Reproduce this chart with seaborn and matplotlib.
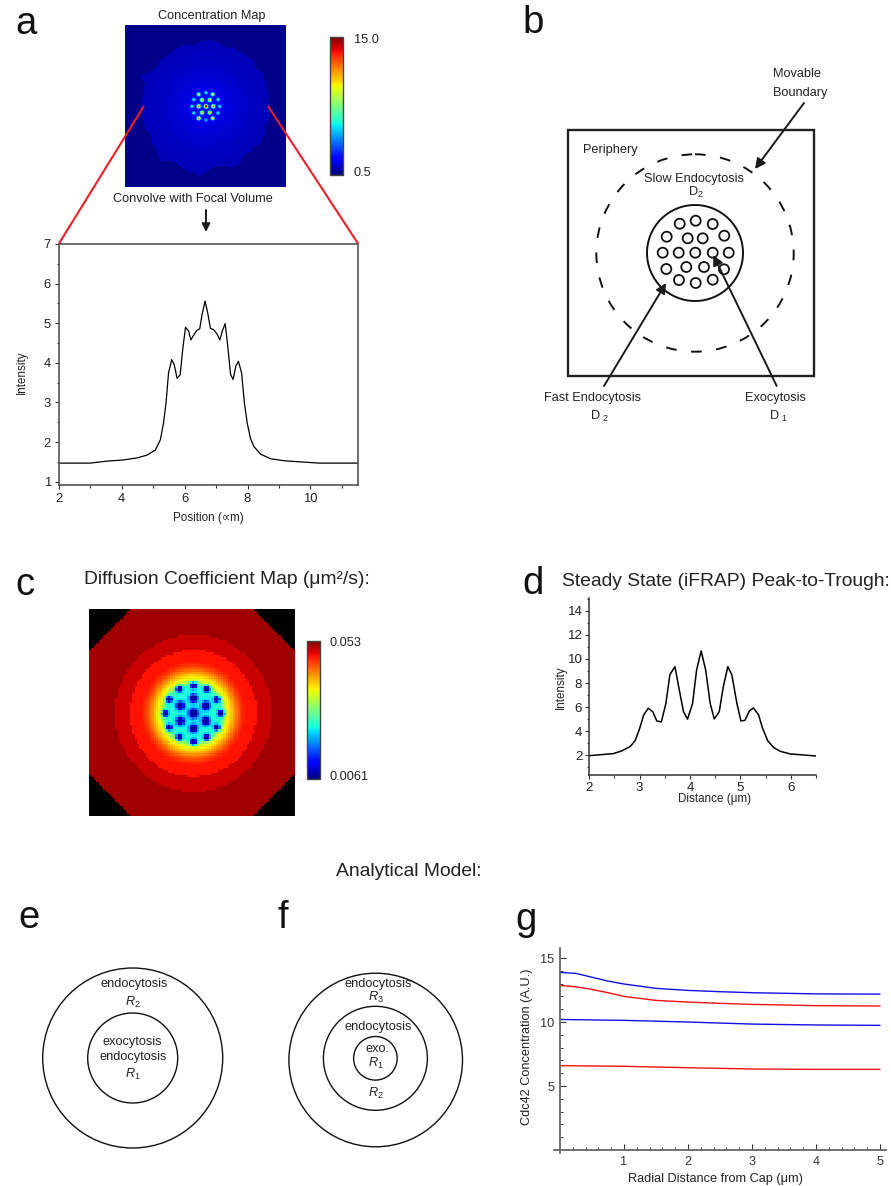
import numpy as np
import matplotlib
matplotlib.use("Agg")
import matplotlib.pyplot as plt
from matplotlib.patches import Circle, Rectangle
from matplotlib.ticker import FixedLocator
import seaborn as sns

W, H = 891, 1186

# ---- panel a profile
a_pos = [2, 3, 3.53, 4.06, 4.48, 4.8, 5.07, 5.23, 5.33, 5.41, 5.49, 5.59, 5.67, 5.76, 5.86, 5.94, 6.03, 6.13, 6.2, 6.31,
         6.39, 6.48, 6.55, 6.65, 6.73, 6.82, 6.92, 7.03, 7.12, 7.2, 7.29, 7.37, 7.46, 7.54, 7.63, 7.71, 7.81, 7.9, 7.99,
         8.09, 8.2, 8.41, 8.73, 9.16, 9.69, 10.3, 11.5]
a_int = [1.47, 1.47, 1.52, 1.55, 1.6, 1.67, 1.8, 2.06, 2.48, 2.99, 3.75, 4.08, 3.96, 3.61, 3.7, 4.34, 4.9, 4.8, 4.58, 4.73,
         4.82, 4.86, 5.2, 5.56, 5.28, 4.87, 4.84, 4.73, 4.58, 4.81, 4.99, 4.43, 3.71, 3.58, 3.92, 4.04, 3.75, 2.99, 2.48,
         2.1, 1.89, 1.7, 1.58, 1.53, 1.5, 1.47, 1.47]

# ---- panel a map: blob boundary every 5 degrees (px), radial level, spots (px from centre)
a_edge = [64, 62, 64, 63, 65, 64, 67, 63, 64, 66, 64, 66, 63, 65, 62, 64, 65, 66,
          66, 65, 62, 64, 65, 65, 64, 64, 63, 65, 62, 64, 67, 72, 64, 65, 63, 65,
          65, 63, 65, 64, 65, 62, 63, 65, 66, 68, 71, 66, 63, 65, 66, 68, 67, 70,
          66, 62, 60, 62, 64, 67, 67, 63, 62, 64, 62, 66, 64, 66, 62, 63, 65, 63]
a_lvl_r = [0, 10, 20, 30, 45, 70]
a_lvl_v = [2.2, 2.0, 1.75, 1.55, 1.35, 1.2]
a_bg = 0.62
a_spot_x = [0, -4, 3.7, -7.3, 7.3, -4, 3.7,
            -7.3, 0, 6.7, -12.3, 12, -14, 13.7, -12.3, 12, -7.3, 0, 6.7]
a_spot_y = [0, -6.3, -6.3, 0, 0, 6.3, 6.3,
            -12, -13.7, -12, -6.7, -6.7, 0, 0, 6.7, 6.7, 12, 13.7, 12]
a_spot_amp = [15, 10, 10, 11, 11, 10, 10,
              8, 4.5, 8, 4.5, 4.5, 4.5, 4.5, 4.5, 4.5, 11, 3.5, 8]

# ---- panel c map: radial jet fraction, band limits (reference px x3), spots
c_r = [0, 75, 85, 92, 100, 110, 125, 140, 155]
c_t = [0.385, 0.40, 0.43, 0.52, 0.62, 0.67, 0.76, 0.84, 0.885]
c_band_r = [155, 190, 235]
c_band_t = [0.89, 0.935, 0.97]
c_spot_x = [0, 0, 37, 37, 0, -39, -39, 0, 40, 70, 83, 70, 40, 0, -42, -73, -84, -73, -42]
c_spot_y = [0, -45, -23, 23, 45, 23, -23, -83, -73, -42, 0, 42, 72, 85, 72, 42, 0, -42, -73]
c_spot_s = [10, 8.5, 8.5, 8.5, 8.5, 8.5, 8.5, 6.5, 6.5, 6.5, 6.5, 6.5, 6.5, 6.5, 6.5, 6.5, 6.5, 6.5, 6.5]

# ---- panel d profile
d_dist = [2, 2.48, 2.64, 2.81, 2.91, 2.99, 3.08, 3.17, 3.26, 3.34, 3.43, 3.52, 3.6, 3.7, 3.78, 3.87, 3.95, 4.05, 4.13, 4.22,
          4.31, 4.4, 4.48, 4.58, 4.66, 4.75, 4.83, 4.93, 5.01, 5.09, 5.18, 5.26, 5.36, 5.44, 5.54, 5.66, 5.79, 5.99, 6.25, 6.5]
d_int = [1.97, 2.14, 2.36, 2.72, 3.22, 4.1, 5.35, 5.9, 5.62, 4.85, 4.77, 6.3, 8.7, 9.36, 7.56, 5.62, 5.0, 6.3, 9.08, 10.66,
         9.08, 6.3, 5.02, 5.62, 7.7, 9.36, 8.67, 6.3, 4.85, 4.9, 5.7, 5.93, 5.35, 4.24, 3.22, 2.64, 2.33, 2.11, 2.03, 1.94]

# ---- panel g curves
g_x1 = [0, 0.25, 0.5, 0.75, 1, 1.5, 2, 2.5, 3, 4, 5]
g_blue1 = [13.88, 13.8, 13.5, 13.2, 12.97, 12.63, 12.47, 12.37, 12.29, 12.2, 12.18]
g_red1 = [12.86, 12.75, 12.55, 12.29, 12.0, 11.69, 11.56, 11.46, 11.38, 11.28, 11.25]
g_x2 = [0, 1, 2, 3, 4, 5]
g_blue2 = [10.2, 10.13, 10.0, 9.84, 9.77, 9.74]
g_red2 = [6.59, 6.54, 6.43, 6.33, 6.3, 6.3]

# ---- panel b schematic (figure px)
b_ves_x = [679.7, 695.7, 712.7, 666.7, 687.7, 702.7, 724.3, 662.7, 678.7, 695.3, 712.7, 728.7, 666.3, 686.3, 704, 724, 679, 695.7, 712.7]
b_ves_y = [223.7, 220.7, 224, 236.7, 238.3, 238.3, 235.7, 252.7, 252.7, 252.7, 252.7, 252.7, 269, 267, 267, 269.3, 280, 283, 279.7]

sns.set_theme(style="ticks")
plt.rcParams["font.family"] = ["Liberation Sans", "DejaVu Sans"]
plt.rcParams["mathtext.fontset"] = "custom"
plt.rcParams["mathtext.rm"] = "Liberation Sans"
plt.rcParams["mathtext.it"] = "Liberation Sans:italic"
plt.rcParams["mathtext.bf"] = "Liberation Sans:bold"

fig = plt.figure(figsize=(W / 100, H / 100), dpi=100, facecolor="white")
INK = "#222222"


def px_ax(x0, y0, x1, y1):
    return fig.add_axes([x0 / W, 1 - y1 / H, (x1 - x0) / W, (y1 - y0) / H])


def set_labels(ax, xlabel, xl, ylabel, yl, size=8.4):
    ax.set_xlabel(xlabel, fontsize=size, color=INK, va="center", ha="center")
    ax.set_ylabel(ylabel, fontsize=size, color=INK, va="center", ha="center")
    ax.xaxis.set_label_coords(xl[0] / W, 1 - xl[1] / H, transform=fig.transFigure)
    ax.yaxis.set_label_coords(yl[0] / W, 1 - yl[1] / H, transform=fig.transFigure)


# ============ panel a map
mx, my = np.meshgrid(np.arange(161) + 0.5 - 81, np.arange(162) + 0.5 - 81.3)
mr = np.hypot(mx, my)
mang = np.degrees(np.arctan2(-my, mx)) % 360
edge = np.array(a_edge + a_edge[:1], float)
edge_r = np.interp(mang, np.arange(len(edge)) * 5, edge)
conc = np.where(mr < edge_r, np.interp(mr, a_lvl_r, a_lvl_v), a_bg)
for sx, sy, amp in zip(a_spot_x, a_spot_y, a_spot_amp):
    conc = conc + amp * np.exp(-((mx - sx) ** 2 + (my - sy) ** 2) / (2 * 1.25 ** 2))
conc = np.clip(conc, 0.5, 15)
ax_map = px_ax(125, 25, 286, 187)
cax_a = px_ax(330, 37, 343, 175)
sns.heatmap(conc, ax=ax_map, cmap="jet", vmin=0.5, vmax=15, cbar_ax=cax_a, cbar_kws={"ticks": []},
            xticklabels=False, yticklabels=False)
cb = ax_map.collections[0].colorbar
cb.outline.set_edgecolor("#444444")
cb.outline.set_linewidth(1.0)

# ============ panel a profile
ax_a = px_ax(58.7, 244, 357.7, 485.3)
sns.lineplot(x=a_pos, y=a_int, ax=ax_a, color="black", linewidth=0.9, errorbar=None, sort=False)
ax_a.set_xlim(2, 11.5)
ax_a.set_ylim(0.91, 7)
ax_a.set_xticks([2, 4, 6, 8, 10])
ax_a.set_yticks([1, 2, 3, 4, 5, 6, 7])
ax_a.xaxis.set_minor_locator(FixedLocator([3, 5, 7, 9, 11]))
ax_a.yaxis.set_minor_locator(FixedLocator([1.5, 2.5, 3.5, 4.5, 5.5, 6.5]))
for s in ax_a.spines.values():
    s.set_color("#555555")
    s.set_linewidth(1.2)
ax_a.tick_params(which="major", length=3.2, width=0.8, color="#333333", labelsize=9.4, labelcolor=INK, pad=2.5)
ax_a.tick_params(which="minor", length=1.8, width=0.8, color="#333333")
set_labels(ax_a, "Position (\u221dm)", (208, 518), "Intensity", (22, 372))

# ============ panel c map
cn = 86
cx = (np.arange(cn) + 0.5) * 618 / cn + 87 - 400
cy = (np.arange(cn) + 0.5) * 621 / cn + 57 - 370
gx, gy = np.meshgrid(cx, cy)
gr = np.hypot(gx, gy)
tt = np.interp(gr, c_r, c_t)
for lim, val in zip(c_band_r, c_band_t):
    tt = np.where(gr >= lim, val, tt)
for sx, sy, ss in zip(c_spot_x, c_spot_y, c_spot_s):
    g = np.exp(-((gx - sx) ** 2 + (gy - sy) ** 2) / (2 * ss ** 2))
    g = np.clip(g * 1.5, 0, 1)
    tt = tt * (1 - g) + 0.02 * g
diff = 0.0061 + tt * (0.053 - 0.0061)
ox = (gx + 400 - 87) / 618 * 2 - 1
oy = (gy + 370 - 57) / 621 * 2 - 1
corner = (np.abs(ox) + np.abs(oy)) > 1.59
ax_c = px_ax(89, 609, 295, 816)
cax_c = px_ax(306.7, 640.7, 320, 779)
sns.heatmap(diff, ax=ax_c, cmap="jet", vmin=0.0061, vmax=0.053, mask=corner, cbar_ax=cax_c,
            cbar_kws={"ticks": []}, xticklabels=False, yticklabels=False)
ax_c.set_facecolor("black")
cb = ax_c.collections[0].colorbar
cb.outline.set_edgecolor("#444444")
cb.outline.set_linewidth(1.0)

# ============ panel d
ax_d = px_ax(589.3, 598.3, 816, 775)
sns.lineplot(x=d_dist, y=d_int, ax=ax_d, color="black", linewidth=1.1, errorbar=None, sort=False)
ax_d.set_xlim(2, 6.5)
ax_d.set_ylim(0.365, 15.03)
ax_d.set_xticks([2, 3, 4, 5, 6])
ax_d.set_yticks([2, 4, 6, 8, 10, 12, 14])
ax_d.xaxis.set_minor_locator(FixedLocator([2.5, 3.5, 4.5, 5.5, 6.5]))
ax_d.yaxis.set_minor_locator(FixedLocator([1, 3, 5, 7, 9, 11, 13, 15]))
for k in ("top", "right"):
    ax_d.spines[k].set_visible(False)
for k in ("left", "bottom"):
    ax_d.spines[k].set_color("#333333")
    ax_d.spines[k].set_linewidth(1.1)
ax_d.tick_params(which="major", length=3, width=0.8, color="#333333", labelsize=9.6, labelcolor=INK, pad=2.0)
ax_d.tick_params(which="minor", length=1.8, width=0.8, color="#333333")
set_labels(ax_d, "Distance (\u03bcm)", (714, 799), "Intensity", (561, 687))

# ============ panel g
ax_g = px_ax(553.6, 947.8, 886.4, 1153.2)
sns.lineplot(x=g_x1, y=g_blue1, ax=ax_g, color="#1010e0", linewidth=1.0, errorbar=None)
sns.lineplot(x=g_x1, y=g_red1, ax=ax_g, color="#f01010", linewidth=1.0, errorbar=None)
sns.lineplot(x=g_x2, y=g_blue2, ax=ax_g, color="#1010e0", linewidth=1.0, errorbar=None)
sns.lineplot(x=g_x2, y=g_red2, ax=ax_g, color="#f01010", linewidth=1.0, errorbar=None)
ax_g.set_xlim(-0.1, 5.1)
ax_g.set_ylim(-0.25, 15.8)
ax_g.spines["left"].set_position(("data", 0))
ax_g.spines["bottom"].set_position(("data", 0))
for k in ("top", "right"):
    ax_g.spines[k].set_visible(False)
for k in ("left", "bottom"):
    ax_g.spines[k].set_color("#666666")
    ax_g.spines[k].set_linewidth(1.3)
ax_g.set_xticks([1, 2, 3, 4, 5])
ax_g.set_yticks([5, 10, 15])
ax_g.xaxis.set_minor_locator(FixedLocator([0.2 * i for i in range(1, 26) if i % 5]))
ax_g.yaxis.set_minor_locator(FixedLocator([i for i in range(1, 16) if i % 5]))
ax_g.tick_params(which="major", direction="in", length=4, width=0.8, color="#333333",
                 labelsize=9.2, labelcolor="#333333", pad=4)
ax_g.tick_params(which="minor", direction="in", length=2, width=0.7, color="#333333")
set_labels(ax_g, "Radial Distance from Cap (\u03bcm)", (715, 1179), "Cdc42 Concentration (A.U.)", (527, 1047), size=9.2)

# ============ overlay in figure pixels
ov = fig.add_axes([0, 0, 1, 1], zorder=10)
ov.set_xlim(0, W)
ov.set_ylim(H, 0)
ov.axis("off")
ov.patch.set_visible(False)


def txt(x, y, s, size=9.2, ha="center", color=INK, **kw):
    ov.text(x, y, s, fontsize=size, ha=ha, va="center", color=color, **kw)


def arrow(x0, y0, x1, y1, lw=1.4, ms=13):
    ov.annotate("", xy=(x1, y1), xytext=(x0, y0),
                arrowprops=dict(arrowstyle="-|>", color="#1a1a1a", lw=lw, mutation_scale=ms, shrinkA=0, shrinkB=0))


def ring(x, y, r, lw=1.0, **kw):
    ov.add_patch(Circle((x, y), r, fill=False, edgecolor="#111111", linewidth=lw, **kw))


for s, x, y in [("a", 15, 34), ("b", 522, 33), ("c", 15, 595), ("d", 522, 594), ("e", 18, 928), ("f", 277, 928), ("g", 515, 930)]:
    ov.text(x, y, s, fontsize=27.5, ha="left", va="baseline", color="#111111")

# panel a decorations
txt(212, 16, "Concentration Map")
txt(193, 199.5, "Convolve with Focal Volume")
txt(354, 40, "15.0", ha="left")
txt(354, 173.5, "0.5", ha="left")
arrow(206, 210, 206, 232, lw=1.4, ms=12)
ov.plot([144, 59], [106, 243.5], color="#e8202a", lw=1.5, solid_capstyle="butt")
ov.plot([268, 358], [106, 243.5], color="#e8202a", lw=1.5, solid_capstyle="butt")

# panel b
ov.add_patch(Rectangle((567.7, 130), 246.3, 245.7, fill=False, edgecolor="#222222", linewidth=1.7))
ring(695, 253, 98.7, lw=1.4, linestyle=(0, (5.5, 7.5)))
ring(695, 253, 48, lw=1.4)
sns.scatterplot(x=b_ves_x, y=b_ves_y, ax=ov, s=52, legend=False, zorder=3)
ov.collections[-1].set_facecolor("none")
ov.collections[-1].set_edgecolor("#111111")
ov.collections[-1].set_linewidth(1.3)
ov.set_xlim(0, W)
ov.set_ylim(H, 0)
arrow(804, 103, 755, 169, ms=15)
arrow(604, 386, 666, 283, ms=15)
arrow(776.7, 386, 713.3, 255, ms=15)
txt(772.7, 74, "Movable", ha="left")
txt(772.7, 92.7, "Boundary", ha="left")
txt(582.7, 150, "Periphery", ha="left")
txt(693.7, 179, "Slow Endocytosis")
txt(696, 192, r"$\mathrm{D}_2$")
txt(592.7, 397.7, "Fast Endocytosis")
txt(600, 416, r"$\mathrm{D}\ _2$")
txt(775, 397.7, "Exocytosis")
txt(779, 416, r"$\mathrm{D}\ _1$")

# titles
txt(226.5, 579, "Diffusion Coefficient Map (\u03bcm\u00b2/s):", size=13.9)
txt(726, 581, "Steady State (iFRAP) Peak-to-Trough:", size=13.9)
txt(330, 643, "0.053", ha="left")
txt(330, 777, "0.0061", ha="left")
txt(409, 872, "Analytical Model:", size=13.9)

# panel e
ring(132.7, 1058, 90)
ring(132.7, 1058, 45)
txt(134, 984, "endocytosis")
txt(133, 1002, "$R_2$")
txt(132.7, 1042, "exocytosis")
txt(132.7, 1057, "endocytosis")
txt(133, 1074, "$R_1$")

# panel f
ring(375.7, 1060, 86.8)
ring(375.4, 1058.3, 52)
ring(375.4, 1058.3, 21.8)
txt(377.7, 984, "endocytosis")
txt(376, 997, "$R_3$")
txt(377.7, 1026.7, "endocytosis")
txt(377, 1049, "exo.")
txt(376, 1063, "$R_1$")
txt(376, 1093, "$R_2$")

fig.savefig("out.png", dpi=100, facecolor="white")
